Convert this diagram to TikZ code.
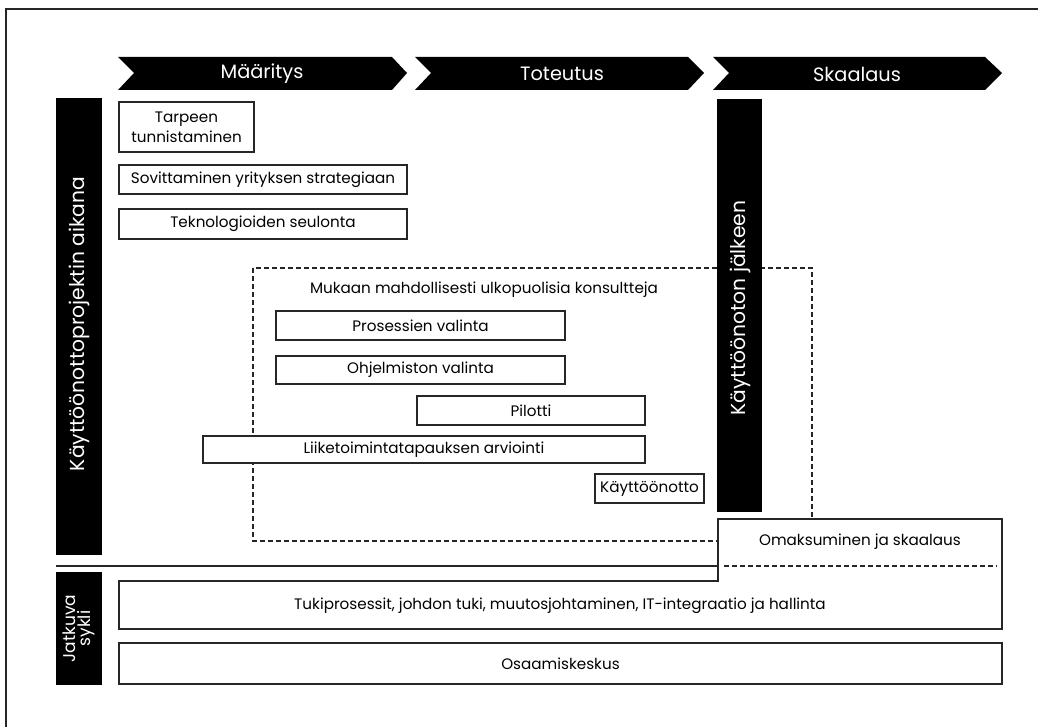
\documentclass[tikz,border=0pt]{standalone}
\usepackage{fontspec}
\setmainfont{Poppins}
\begin{document}
\begin{tikzpicture}[x=0.75pt,y=-0.75pt,
  frame/.style={line width=0.8pt,draw=black!85},
  chev/.style={fill=black},
  phase/.style={text=white,font=\fontsize{14.5}{16}\selectfont,inner sep=0pt},
  box/.style={draw=black!85,line width=0.9pt,fill=white,inner sep=1pt,font=\fontsize{11.4}{12.8}\selectfont,align=center},
  darkbar/.style={fill=black,draw=none,inner sep=0pt},
  bartext/.style={text=white,rotate=90,font=\fontsize{15.2}{16}\selectfont,inner sep=0pt,align=center},
  dashbox/.style={draw=black!85,line width=0.9pt,dash pattern=on 3.5pt off 2.5pt},
  plain/.style={font=\fontsize{11.4}{12.8}\selectfont,inner sep=0pt}
]
\useasboundingbox (0,0) rectangle (1038,727);
% page frame
\draw[frame] (1038,9) -- (6,9) -- (6,727);

% phase chevrons
\fill[chev] (118,57) -- (392,57) -- (407,73) -- (392,90) -- (118,90) -- (134,73) -- cycle;
\fill[chev] (415,57) -- (688,57) -- (704,73) -- (688,90) -- (415,90) -- (431,73) -- cycle;
\fill[chev] (713,57) -- (985,57) -- (1002,73) -- (985,90) -- (713,90) -- (729,73) -- cycle;
\node[phase] (p1) at (262,74) {Määritys};
\node[phase] (p2) at (562,74) {Toteutus};
\node[phase] (p3) at (857,74) {Skaalaus};

% dashed consultant area
\draw[dashbox] (253,268) rectangle (812,541);
\node[plain] (cons) at (484,290) {Mukaan mahdollisesti ulkopuolisia konsultteja};

% left bar
\node[darkbar,minimum width=46*0.75pt,minimum height=456*0.75pt] (lbar) at (79,326.5) {};
\node[bartext] (lbartext) at (79,324) {Käyttöönottoprojektin aikana};

% definition boxes
\node[box,minimum width=135*0.75pt,minimum height=50*0.75pt] (tarve) at (186.5,127) {Tarpeen\\[2pt]tunnistaminen};
\node[box,minimum width=288*0.75pt,minimum height=29*0.75pt] (sovit) at (263,179.5) {Sovittaminen yrityksen strategiaan};
\node[box,minimum width=288*0.75pt,minimum height=30*0.75pt] (tekno) at (263,224) {Teknologioiden seulonta};

% implementation boxes
\node[box,minimum width=289*0.75pt,minimum height=29*0.75pt] (pros) at (420.5,325.5) {Prosessien valinta};
\node[box,minimum width=289*0.75pt,minimum height=28*0.75pt] (ohj) at (420.5,370) {Ohjelmiston valinta};
\node[box,minimum width=228*0.75pt,minimum height=29*0.75pt] (pil) at (531,410.5) {Pilotti};
\node[box,minimum width=442*0.75pt,minimum height=27*0.75pt] (liik) at (424,449.5) {Liiketoimintatapauksen arviointi};
\node[box,minimum width=109*0.75pt,minimum height=29*0.75pt] (kayt) at (649.5,488.5) {Käyttöönotto};

% right bar
\node[darkbar,minimum width=45*0.75pt,minimum height=413*0.75pt] (rbar) at (739.5,305.5) {};
\node[bartext] (rbartext) at (740,308) {Käyttöönoton jälkeen};

% adoption and scaling + support processes (combined outline)
\coordinate (oa) at (718,519);
\coordinate (ob) at (1002,519);
\coordinate (tc) at (1002,629);
\coordinate (td) at (119,629);
\coordinate (te) at (119,581);
\coordinate (tf) at (718,581);
\filldraw[draw=black!85,fill=white,line width=0.9pt] (te) -- (tf) -- (oa) -- (ob) -- (tc) -- (td) -- cycle;
\node[plain] (omak) at (860,542) {Omaksuminen ja skaalaus};
\node[plain] (tuki) at (560,606) {Tukiprosessit, johdon tuki, muutosjohtaminen, IT-integraatio ja hallinta};

% separators
\coordinate (s1) at (56,566);
\coordinate (s2) at (718,566);
\coordinate (s3) at (724,566);
\coordinate (s4) at (997,566);
\draw[draw=black!85,line width=0.9pt] (s1) -- (s2);
\draw[dashbox] (s3) -- (s4);

% continuous cycle
\node[darkbar,minimum width=46*0.75pt,minimum height=113*0.75pt] (jbar) at (79,628.5) {};
\node[bartext,font=\fontsize{12.8}{11.5}\selectfont] (jbartext) at (jbar.center) {Jatkuva\\sykli};
\node[box,minimum width=883*0.75pt,minimum height=41*0.75pt] (osaa) at (560.5,663.5) {Osaamiskeskus};
\end{tikzpicture}
\end{document}
